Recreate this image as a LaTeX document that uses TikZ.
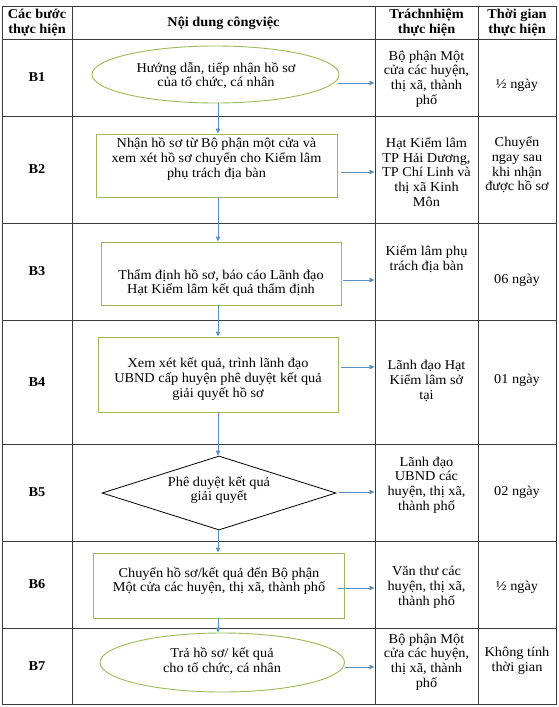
\documentclass[tikz,border=0pt]{standalone}
\usepackage{fontspec}
\setmainfont{Liberation Serif}[FakeStretch=1.06]
\usetikzlibrary{shapes.geometric,arrows.meta}
\definecolor{boxgreen}{HTML}{9BBB59}
\definecolor{arrblue}{HTML}{5B8FC9}
\definecolor{gridc}{HTML}{3A3A3A}
\newcommand{\fs}{\fontsize{13.5}{14.8}\selectfont}
\tikzset{
  every node/.style={font=\fs, inner sep=0pt, align=center},
  hdr/.style={font=\fs\bfseries},
  gridline/.style={draw=gridc, line width=1pt},
  flowbox/.style={draw=boxgreen, line width=0.9pt, rectangle},
  flowell/.style={draw=boxgreen, line width=0.9pt, ellipse},
  flowdia/.style={draw=black, line width=0.8pt, diamond},
  arr/.style={draw=arrblue, line width=0.9pt, -{Triangle[length=5pt,width=4.5pt]}}
}
\begin{document}
\begin{tikzpicture}[x=1pt,y=-1pt]
\useasboundingbox (0,0) rectangle (558,707);
\fill[white] (0,0) rectangle (558,707);
% table grid
\draw[gridline] (2,6) rectangle (556,704);
\foreach \x in {72,375,478} \draw[gridline] (\x,6) -- (\x,704);
\foreach \y in {39,116,223,320,444,541,628} \draw[gridline] (2,\y) -- (556,\y);
% header
\node[hdr] (h1) at (37,22.5) {Các bước\\thực hiện};
\node[hdr] (h2) at (223.5,23) {Nội dung côngviệc};
\node[hdr] (h3) at (426.5,22.5) {Tráchnhiệm\\thực hiện};
\node[hdr] (h4) at (517,22.5) {Thời gian\\thực hiện};
% step labels
\node[hdr] (s1) at (37,77.5) {B1};
\node[hdr] (s2) at (37,169.5) {B2};
\node[hdr] (s3) at (37,271.5) {B3};
\node[hdr] (s4) at (37,382) {B4};
\node[hdr] (s5) at (37,492.5) {B5};
\node[hdr] (s6) at (37,584.5) {B6};
\node[hdr] (s7) at (37,666) {B7};
% flow shapes
\node[flowell, minimum width=247pt, minimum height=57pt] (b1) at (215.5,74.5) {};
\node (b1t) at (216,75.5) {Hướng dẫn, tiếp nhận hồ sơ\\của tổ chức, cá nhân};
\node[flowbox, minimum width=241pt, minimum height=63pt] (b2) at (216.5,165.5) {};
\node (b2t) at (216.5,159) {Nhận hồ sơ từ Bộ phận một cửa và\\xem xét hồ sơ chuyển cho Kiểm lâm\\phụ trách địa bàn};
\node[flowbox, minimum width=240pt, minimum height=63pt] (b3) at (221,273.5) {};
\node (b3t) at (221,283) {Thẩm định hồ sơ, báo cáo Lãnh đạo\\Hạt Kiểm lâm kết quả thẩm định};
\node[flowbox, minimum width=240pt, minimum height=75pt] (b4) at (218,374.5) {};
\node (b4t) at (218,379) {Xem xét kết quả, trình lãnh đạo\\UBND cấp huyện phê duyệt kết quả\\giải quyết hồ sơ};
\node[flowdia, minimum width=234pt, minimum height=74pt] (b5) at (219,493) {};
\node (b5t) at (219,490) {Phê duyệt kết quả\\giải quyết};
\node[flowbox, minimum width=251pt, minimum height=65pt] (b6) at (219,585.5) {};
\node (b6t) at (219,581) {Chuyển hồ sơ/kết quả đến Bộ phận\\Một cửa các huyện, thị xã, thành phố};
\node[flowell, minimum width=244.5pt, minimum height=59pt] (b7) at (222.25,662.5) {};
\node (b7t) at (222,661) {Trả hồ sơ/ kết quả\\cho tổ chức, cá nhân};
% responsibility column
\node (r1) at (426.5,79) {Bộ phận Một\\cửa các huyện,\\thị xã, thành\\phố};
\node (r2) at (426.5,172) {Hạt Kiểm lâm\\TP Hải Dương,\\TP Chí Linh và\\thị xã Kinh\\Môn};
\node (r3) at (426.5,259) {Kiểm lâm phụ\\trách địa bàn};
\node (r4) at (426.5,381) {Lãnh đạo Hạt\\Kiểm lâm sở\\tại};
\node (r5) at (426.5,485) {Lãnh đạo\\UBND các\\huyện, thị xã,\\thành phố};
\node (r6) at (426.5,587) {Văn thư các\\huyện, thị xã,\\thành phố};
\node (r7) at (426.5,662) {Bộ phận Một\\cửa các huyện,\\thị xã, thành\\phố};
% time column
\node (t1) at (517,85) {½ ngày};
\node (t2) at (517,165) {Chuyển\\ngay sau\\khi nhận\\được hồ sơ};
\node (t3) at (517,280) {06 ngày};
\node (t4) at (517,380) {01 ngày};
\node (t5) at (517,492) {02 ngày};
\node (t6) at (517,587) {½ ngày};
\node (t7) at (517,661) {Không tính\\thời gian};
% arrow end coordinates
\coordinate (ax) at (218,0);
\coordinate (e1) at (374.5,83);
\coordinate (e2) at (374.5,172);
\coordinate (e3) at (374.5,280);
\coordinate (e4) at (374.5,367);
\coordinate (e5) at (374.5,492);
\coordinate (e6) at (374.5,588);
\coordinate (e7) at (374.5,667);
% horizontal arrows
\draw[arr] (b1.east |- e1) ++(-1,0) -- (e1);
\draw[arr] (b2.east |- e2) ++(4,0) -- (e2);
\draw[arr] (b3.east |- e3) ++(2,0) -- (e3);
\draw[arr] (b4.east |- e4) ++(3,0) -- (e4);
\draw[arr] (b5.east |- e5) ++(3,0) -- (e5);
\draw[arr] (b6.east |- e6) ++(-7,0) -- (e6);
\draw[arr] (b7.east |- e7) -- (e7);
% vertical arrows
\draw[arr] (ax |- b1.south) -- (ax |- b2.north);
\draw[arr] (ax |- b2.south) -- (ax |- b3.north);
\draw[arr] (ax |- b3.south) -- (ax |- b4.north);
\draw[arr] (ax |- b4.south) -- (ax |- b5.north);
\draw[arr] (ax |- b5.south) -- (ax |- b6.north);
\draw[arr] (ax |- b6.south) -- (ax |- b7.north);
\end{tikzpicture}
\end{document}
